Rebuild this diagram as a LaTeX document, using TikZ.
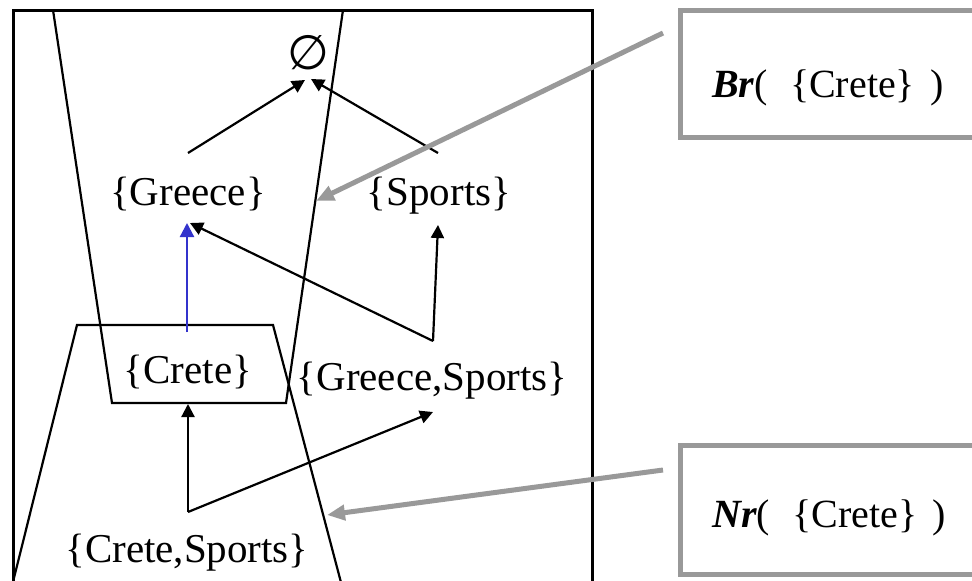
\documentclass[tikz,border=0pt]{standalone}
\usepackage{fontspec}
\setmainfont{Liberation Serif}
\newfontfamily\symfont{DejaVu Sans}
\usetikzlibrary{arrows.meta}
\begin{document}
\begin{tikzpicture}[x=1pt,y=-1pt,
  lbl/.style={inner sep=0pt, anchor=base, font=\fontsize{41}{46}\selectfont},
  boxlbl/.style={inner sep=0pt, anchor=base west, font=\fontsize{40}{45}\selectfont},
  frame/.style={line width=3pt, black},
  region/.style={line width=2.2pt, black, line join=miter},
  link/.style={line width=2.2pt, black, -{Triangle[length=13pt,width=13pt]}},
  bluelink/.style={line width=2.2pt, color={rgb,255:red,51;green,51;blue,204}, -{Triangle[length=14pt,width=14pt]}},
  pointer/.style={line width=5pt, color={rgb,255:red,153;green,153;blue,153}, -{Triangle[length=18pt,width=15pt]}},
  callout/.style={line width=5pt, draw={rgb,255:red,153;green,153;blue,153}}]
\clip (0,0) rectangle (972,581);
\fill[white] (0,0) rectangle (972,581);

% lattice frame
\draw[frame] (13,600) -- (13,10) -- (592,10) -- (592,600);

% upward-closed region above {Crete}
\draw[region] (53,10) -- (112,403) -- (286,403) -- (343,10);
% downward region below {Crete}
\draw[region] (11,590) -- (77,325) -- (273,325) -- (343,590);

% lattice elements
\node[inner sep=0pt, anchor=base] (empty) at (308,69) {\symfont\fontsize{48}{52}\selectfont ∅};
\node[lbl] (greece) at (188,205) {\{Greece\}};
\node[lbl] (sports) at (439,205) {\{Sports\}};
\node[lbl] (crete) at (188,383) {\{Crete\}};
\node[lbl] (gs) at (432,390) {\{Greece,Sports\}};
\node[lbl] (cs) at (187,562) {\{Crete,Sports\}};

% connector end points
\coordinate (greece-up) at (188,153);
\coordinate (sports-up) at (438,153);
\coordinate (empty-l) at (305,80);
\coordinate (empty-r) at (311,79);
\coordinate (greece-in) at (190,223);
\coordinate (greece-blue) at (187,223);
\coordinate (sports-in) at (438,225);
\coordinate (crete-up) at (187,332);
\coordinate (gs-fork) at (433,341);
\coordinate (gs-in) at (433,412);
\coordinate (cs-fork) at (188,512);
\coordinate (crete-in) at (188,404);

% order edges
\draw[link] (greece-up) -- (empty-l);
\draw[link] (sports-up) -- (empty-r);
\draw[bluelink] (crete-up) -- (greece-blue);
\draw[link] (gs-fork) -- (greece-in);
\draw[link] (gs-fork) -- (sports-in);
\draw[link] (cs-fork) -- (crete-in);
\draw[link] (cs-fork) -- (gs-in);

% callout boxes
\draw[callout] (680,10) rectangle (990,137.5);
\draw[callout] (680,445.5) rectangle (990,574.5);
\node[boxlbl] (br) at (712,97) {\textbf{\textit{Br}}(\hspace{22pt}\{Crete\}\hspace{15pt})};
\node[boxlbl] (nr) at (712,527) {\textbf{\textit{Nr}}(\hspace{22pt}\{Crete\}\hspace{15pt})};

\coordinate (br-tail) at (663,33);
\coordinate (br-tip) at (316,201);
\coordinate (nr-tail) at (663,470);
\coordinate (nr-tip) at (327,515);
\draw[pointer] (br-tail) -- (br-tip);
\draw[pointer] (nr-tail) -- (nr-tip);
\end{tikzpicture}
\end{document}
